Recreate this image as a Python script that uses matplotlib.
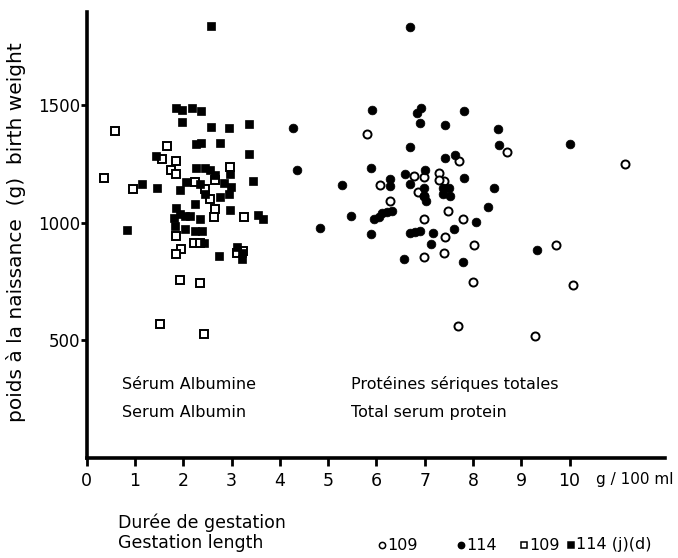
import matplotlib
matplotlib.use("Agg")
import matplotlib.pyplot as plt

# ---- data (g/100 ml, birth weight g) ----
alb_109_x = [0.58, 0.35, 0.95, 1.66, 1.56, 1.85, 1.74, 1.85, 2.24, 2.45, 2.56, 2.66, 2.97, 2.66,
             2.63, 3.26, 3.24, 1.85, 2.22, 2.34, 1.95, 1.85, 3.11, 1.93, 2.34, 1.51, 2.43]
alb_109_y = [1390, 1190, 1142, 1328, 1272, 1264, 1225, 1208, 1174, 1145, 1102, 1183, 1238, 1060,
             1026, 1026, 881, 945, 915, 915, 889, 868, 872, 757, 745, 570, 528]

alb_114_x = [1.85, 1.97, 2.18, 2.37, 1.97, 2.57, 2.95, 3.36, 2.26, 2.37, 2.76, 3.36, 1.43, 2.26,
             2.45, 2.55, 2.66, 2.97, 3.44, 1.14, 1.45, 1.93, 2.05, 2.34, 2.45, 2.84, 2.99, 2.95,
             2.76, 2.24, 1.85, 1.93, 1.80, 1.83, 2.03, 2.14, 2.03, 2.34, 2.24, 2.39, 2.97, 3.55,
             3.65, 0.83, 2.43, 2.74, 3.11, 3.22, 3.22, 2.57]
alb_114_y = [1489, 1481, 1489, 1477, 1430, 1408, 1404, 1421, 1336, 1340, 1340, 1294, 1285, 1234,
             1234, 1225, 1204, 1208, 1179, 1166, 1149, 1140, 1174, 1166, 1123, 1170, 1153, 1123,
             1111, 1081, 1062, 1038, 1021, 987, 1030, 1030, 974, 1017, 966, 966, 1055, 1034,
             1017, 970, 915, 858, 898, 872, 847, 1838]

tp_109_x = [5.81, 7.72, 6.78, 6.99, 7.30, 7.39, 7.30, 6.08, 6.87, 6.99, 6.29, 6.99, 7.49, 7.80,
            7.41, 7.39, 6.99, 8.03, 8.01, 7.68, 8.71, 11.14, 9.71, 10.08, 9.29]
tp_109_y = [1379, 1264, 1200, 1196, 1213, 1179, 1183, 1162, 1132, 1115, 1094, 1017, 1051, 1017,
            940, 872, 855, 906, 749, 562, 1302, 1251, 906, 736, 519]

tp_114_x = [6.70, 5.91, 6.85, 6.93, 7.82, 4.27, 6.91, 7.43, 6.70, 7.43, 7.63, 4.36, 5.89, 6.29,
            6.60, 7.01, 7.82, 5.29, 6.29, 6.70, 6.99, 6.99, 7.03, 7.37, 7.51, 7.37, 7.53, 5.48,
            4.83, 5.89, 5.95, 6.05, 6.12, 6.22, 6.33, 6.70, 6.80, 6.91, 7.18, 7.12, 6.58, 7.61,
            7.80, 8.07, 8.51, 8.53, 10.02, 8.44, 8.32, 9.32]
tp_114_y = [1834, 1481, 1468, 1489, 1477, 1404, 1426, 1417, 1323, 1277, 1289, 1225, 1234, 1187,
            1208, 1225, 1191, 1162, 1157, 1166, 1149, 1115, 1094, 1149, 1149, 1123, 1115, 1030,
            979, 953, 1017, 1025, 1040, 1047, 1051, 957, 962, 966, 957, 911, 847, 974,
            832, 1004, 1400, 1332, 1336, 1149, 1068, 885]

x_ticks = list(range(0, 11))
x_ticklabels = [str(v) for v in x_ticks]
y_ticks = [500, 1000, 1500]
y_ticklabels = ["500", "1000", "1500"]

legend_labels = ["109", "114", "109", "114 (j)(d)"]

plt.rcParams['font.family'] = ['DejaVu Sans']

fig = plt.figure(figsize=(6.78, 5.58), dpi=100)
ax = fig.add_axes([0.128, 0.179, 0.853, 0.799])

ms = 6.3
ax.plot(alb_109_x, alb_109_y, 's', ms=ms - 0.8, mfc='white', mec='black', mew=1.4, ls='none', clip_on=False)
ax.plot(alb_114_x, alb_114_y, 's', ms=ms - 0.5, mfc='black', mec='black', mew=0.5, ls='none', clip_on=False)
ax.plot(tp_109_x, tp_109_y, 'o', ms=ms - 0.5, mfc='white', mec='black', mew=1.4, ls='none', clip_on=False)
ax.plot(tp_114_x, tp_114_y, 'o', ms=ms, mfc='black', mec='black', mew=0.5, ls='none', clip_on=False)

ax.set_xlim(0, 11.98)
ax.set_ylim(0, 1895)

for s in ['top', 'right']:
    ax.spines[s].set_visible(False)
for s in ['left', 'bottom']:
    ax.spines[s].set_linewidth(2.6)

ax.set_xticks(x_ticks)
ax.set_xticklabels(x_ticklabels, fontsize=12.5)
ax.set_yticks(y_ticks)
ax.set_yticklabels(y_ticklabels, fontsize=12)
ax.tick_params(axis='x', direction='out', length=6, width=2, pad=4)
ax.tick_params(axis='y', direction='out', length=4, width=2, pad=1)

ax.set_ylabel("poids à la naissance  (g)  birth weight", fontsize=14.5)
ax.yaxis.set_label_coords(-0.105, 0.507)

ax.text(0.73, 315, "Sérum Albumine", fontsize=11.5, va='center', ha='left')
ax.text(0.73, 192, "Serum Albumin", fontsize=11.5, va='center', ha='left')
ax.text(5.48, 315, "Protéines sériques totales", fontsize=11.5, va='center', ha='left')
ax.text(5.48, 192, "Total serum protein", fontsize=11.5, va='center', ha='left')

ax.text(10.55, -92, "g / 100 ml", fontsize=11, va='center', ha='left', clip_on=False)

# legend at the bottom
fig.text(118 / 678, 1 - 523 / 558, "Durée de gestation", fontsize=12.5, va='center', ha='left')
fig.text(118 / 678, 1 - 543 / 558, "Gestation length", fontsize=12.5, va='center', ha='left')

ly = 1 - 545 / 558
items = [(382, 'o', 'white'), (461, 'o', 'black'), (524, 's', 'white'), (571, 's', 'black')]
for (px, mk, fc), lab in zip(items, legend_labels):
    fig.add_artist(plt.Line2D([px / 678], [ly], marker=mk, ms=4.5, mfc=fc, mec='black', mew=1.1,
                              ls='none', transform=fig.transFigure))
    fig.text((px + 5) / 678, ly, lab, fontsize=11.5, va='center', ha='left')

fig.savefig("out.png", dpi=100)
